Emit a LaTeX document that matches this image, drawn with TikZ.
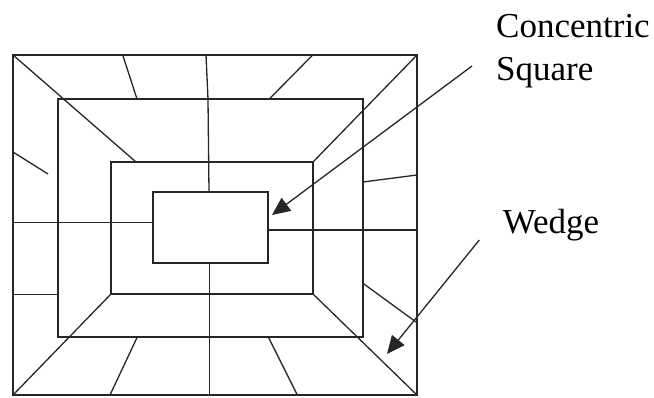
\documentclass[tikz,border=0pt]{standalone}
\usepackage{fontspec}
\setmainfont{Liberation Serif}
\usetikzlibrary{arrows.meta}
\begin{document}
\begin{tikzpicture}[x=1pt,y=-1pt,
  ln/.style={line width=1.3pt,draw=black!85},
  box/.style={ln,rectangle,inner sep=0pt,outer sep=0pt},
  ptr/.style={line width=1.3pt,draw=black!85,-{Triangle[length=18pt,width=16pt]}},
  lbl/.style={font=\fontsize{35}{43}\selectfont,inner sep=0pt,align=left}]
\useasboundingbox (0,0) rectangle (654,397);
% rectangles
\node[box,minimum width=404pt,minimum height=340pt] (outer) at (215,225) {};
\node[box,minimum width=305pt,minimum height=238pt] (second) at (210.5,218) {};
\node[box,minimum width=202pt,minimum height=132pt] (third) at (212,228) {};
\node[box,minimum width=115pt,minimum height=71pt] (inner) at (210.5,227.5) {};
% wedge coordinates
\coordinate (t1a) at (122.7,55); \coordinate (t1b) at (137,99);
\coordinate (d1b) at (136,162);
\coordinate (l1a) at (13,152); \coordinate (l1b) at (48,174);
\coordinate (va) at (206,55); \coordinate (vb) at (208,99); \coordinate (vc) at (209,192);
\coordinate (t2a) at (312.7,55); \coordinate (t2b) at (269.3,99);
\coordinate (r1a) at (363,182); \coordinate (r1b) at (417,175);
\coordinate (h1a) at (13,222.7); \coordinate (h1b) at (153,222.7);
\coordinate (h2a) at (13,294.3); \coordinate (h2b) at (58,294.3);
\coordinate (b1a) at (137.3,337); \coordinate (b1b) at (110,395);
\coordinate (vd) at (209.3,263); \coordinate (ve) at (209.3,395);
\coordinate (h3a) at (268,230); \coordinate (h3b) at (417,230);
\coordinate (r2a) at (363,283.3); \coordinate (r2b) at (417,322.7);
\coordinate (b2a) at (268.3,337); \coordinate (b2b) at (297.3,395);
% wedge lines
\draw[ln] (outer.north west) -- (d1b);
\draw[ln] (t1a) -- (t1b);
\draw[ln] (l1a) -- (l1b);
\draw[ln] (va) -- (vb) -- (vc);
\draw[ln] (t2a) -- (t2b);
\draw[ln] (outer.north east) -- (third.north east);
\draw[ln] (r1a) -- (r1b);
\draw[ln] (h1a) -- (h1b);
\draw[ln] (h2a) -- (h2b);
\draw[ln] (third.south west) -- (outer.south west);
\draw[ln] (b1a) -- (b1b);
\draw[ln] (vd) -- (ve);
\draw[ln] (h3a) -- (h3b);
\draw[ln] (third.south east) -- (outer.south east);
\draw[ln] (r2a) -- (r2b);
\draw[ln] (b2a) -- (b2b);
% labels
\node[lbl,anchor=base west] (cs) at (496,80) {Concentric\\Square};
\node[lbl,anchor=base west] (wd) at (502.7,233) {Wedge};
\coordinate (a1s) at (472,66); \coordinate (a1e) at (272,215);
\coordinate (a2s) at (479.3,240); \coordinate (a2e) at (387,354);
\draw[ptr] (a1s) -- (a1e);
\draw[ptr] (a2s) -- (a2e);
\end{tikzpicture}
\end{document}
